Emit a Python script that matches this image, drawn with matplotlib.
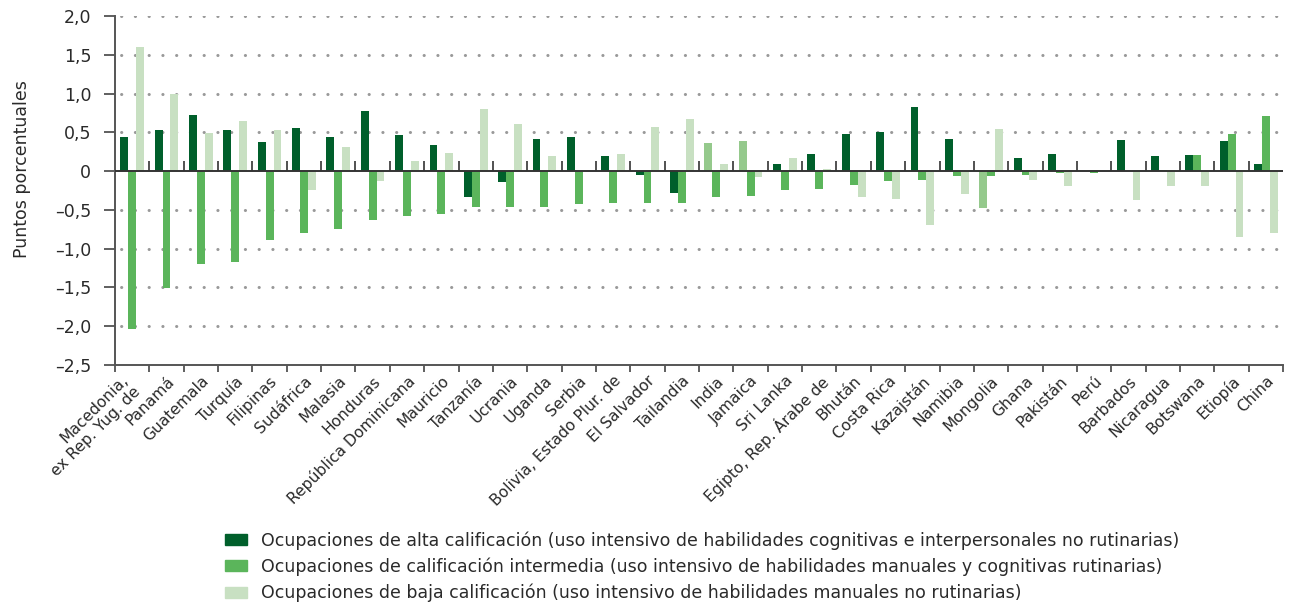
import matplotlib
matplotlib.use("Agg")
import matplotlib.pyplot as plt
import numpy as np
from matplotlib.patches import Patch

plt.rcParams['font.family'] = ['DejaVu Sans']

countries = ["Macedonia,\nex Rep. Yug. de", "Panamá", "Guatemala", "Turquía", "Filipinas",
             "Sudáfrica", "Malasia", "Honduras", "República Dominicana", "Mauricio",
             "Tanzanía", "Ucrania", "Uganda", "Serbia", "Bolivia, Estado Plur. de",
             "El Salvador", "Tailandia", "India", "Jamaica", "Sri Lanka",
             "Egipto, Rep. Árabe de", "Bhután", "Costa Rica", "Kazajstán", "Namibia",
             "Mongolia", "Ghana", "Pakistán", "Perú", "Barbados",
             "Nicaragua", "Botswana", "Etiopía", "China"]

alta = [0.44, 0.53, 0.72, 0.53, 0.38, 0.555, 0.44, 0.77, 0.47, 0.34,
        -0.33, -0.14, 0.41, 0.44, 0.19, -0.05, -0.28, 0.36, 0.39, 0.09,
        0.22, 0.48, 0.50, 0.83, 0.41, -0.47, 0.17, 0.22, 0.0, 0.40,
        0.19, 0.21, 0.39, 0.09]
intermedia = [-2.04, -1.51, -1.20, -1.17, -0.89, -0.80, -0.75, -0.63, -0.58, -0.55,
              -0.46, -0.46, -0.46, -0.42, -0.41, -0.41, -0.41, -0.34, -0.32, -0.25,
              -0.23, -0.18, -0.125, -0.11, -0.06, -0.06, -0.05, -0.02, -0.02, 0.0,
              0.01, 0.21, 0.48, 0.71]
baja = [1.60, 1.00, 0.49, 0.645, 0.53, -0.25, 0.31, -0.125, 0.13, 0.23,
        0.80, 0.61, 0.19, 0.0, 0.22, 0.57, 0.67, 0.09, -0.07, 0.17,
        0.03, -0.33, -0.36, -0.70, -0.29, 0.54, -0.11, -0.19, 0.0, -0.37,
        -0.19, -0.19, -0.85, -0.80]
# countries whose first bar is drawn in a paler shade in the original
pale_alta = ["India", "Jamaica", "Mongolia"]

series_labels = [
    "Ocupaciones de alta calificación (uso intensivo de habilidades cognitivas e interpersonales no rutinarias)",
    "Ocupaciones de calificación intermedia (uso intensivo de habilidades manuales y cognitivas rutinarias)",
    "Ocupaciones de baja calificación (uso intensivo de habilidades manuales no rutinarias)",
]
yticks = [2.0, 1.5, 1.0, 0.5, 0.0, -0.5, -1.0, -1.5, -2.0, -2.5]

c_dark = "#005f2b"
c_mid = "#5bb55b"
c_light = "#c8e0c2"
c_pale = "#95c98c"
txt = "#2a2a2a"
FS = 12.5

fig = plt.figure(figsize=(12.93, 6.05), dpi=100)
ax = fig.add_axes([0.0889, 0.3967, 0.9035, 0.5769])

n = len(countries)
x = np.arange(n) + 0.5
w = 0.23
alta_colors = [c_pale if c in pale_alta else c_dark for c in countries]
ax.bar(x - w, alta, w, color=alta_colors, zorder=3)
ax.bar(x, intermedia, w, color=c_mid, zorder=3)
ax.bar(x + w, baja, w, color=c_light, zorder=3)

ax.set_xlim(0, n)
ax.set_ylim(-2.5, 2.0)
ax.set_yticks(yticks)
def fmt(v):
    if v == 0:
        return "0"
    s = f"{abs(v):.1f}".replace(".", ",")
    return ("–" + s) if v < 0 else s
ax.set_yticklabels([fmt(v) for v in yticks], fontsize=FS, color=txt)

# grid dots
for v in yticks:
    if v not in (0.0, -2.5):
        ax.axhline(v, color="#999999", linewidth=2.2, linestyle=(2.5, (0.05, 4.45)),
                   dash_capstyle="round", zorder=1)

ax.axhline(0, color="#333333", linewidth=1.4, zorder=4)
bounds = np.arange(1, n)
ax.vlines(bounds, 0, 0.13, color="#333333", linewidth=1.2, zorder=4)

ax.set_xticks(np.arange(0, n + 1))
ax.set_xticklabels([])
ax.set_xticks(x, minor=True)
labels = ax.set_xticklabels(countries, minor=True, rotation=45, ha="right",
                            rotation_mode="anchor", fontsize=11.2, color=txt)
ax.tick_params(axis="x", which="minor", length=0, pad=6)
ax.tick_params(axis="x", which="major", length=5, width=1.2, color="#444444", direction="out")
ax.tick_params(axis="y", length=8, width=1.2, color="#444444", pad=9)
for tk, lb in zip(ax.xaxis.get_minor_ticks(), labels):
    lb.set_multialignment("right")
    if "\n" in lb.get_text():
        lb.set_va("center")
        tk.set_pad(13)

for s in ["top", "right"]:
    ax.spines[s].set_visible(False)
ax.spines["left"].set_color("#555555")
ax.spines["left"].set_linewidth(1.4)
ax.spines["bottom"].set_color("#555555")
ax.spines["bottom"].set_linewidth(1.4)

ax.set_ylabel("Puntos porcentuales", fontsize=FS, color=txt)
ax.yaxis.set_label_coords(-0.072, 0.56)

handles = [Patch(color=c_dark), Patch(color=c_mid), Patch(color=c_light)]
fig.legend(handles, series_labels, loc="upper left", bbox_to_anchor=(0.174, 0.122),
           frameon=False, fontsize=FS, handlelength=1.25, handleheight=0.6,
           handletextpad=0.85, labelspacing=0.45, borderaxespad=0, borderpad=0,
           labelcolor=txt)

fig.savefig("out.png", dpi=100)
